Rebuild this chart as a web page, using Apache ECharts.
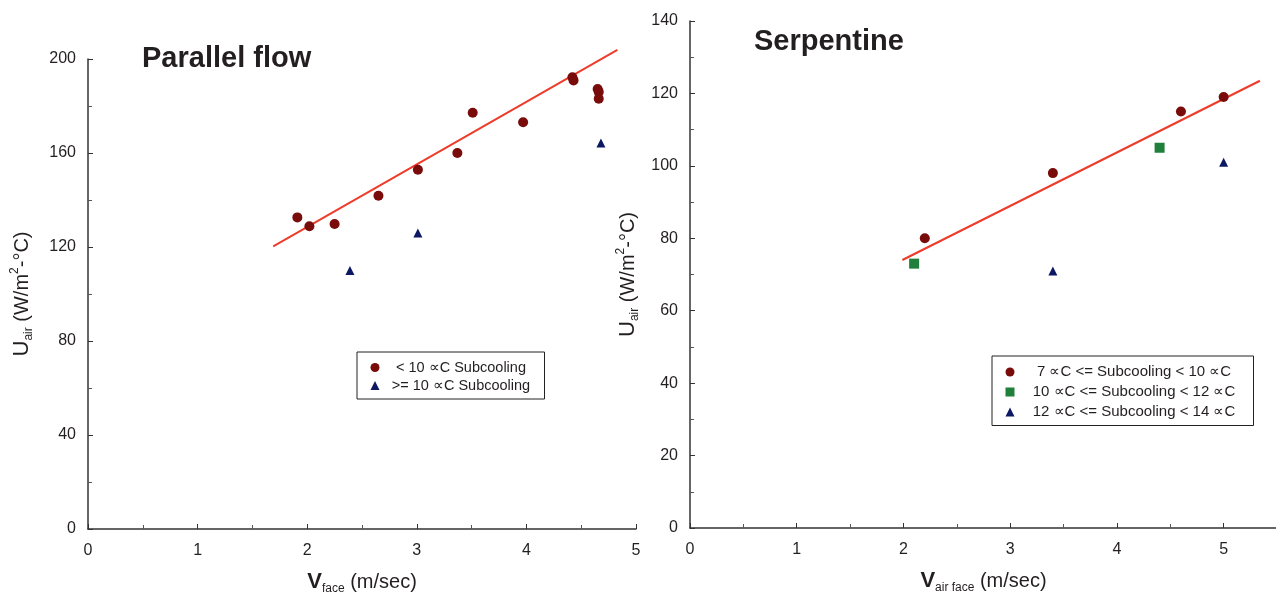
<!DOCTYPE html>
<html>
<head>
<meta charset="utf-8">
<script src="https://cdn.jsdelivr.net/npm/echarts@6/dist/echarts.min.js"></script>
<style>
  html, body { margin: 0; padding: 0; background: #fff; }
  #chart { width: 1276px; height: 592px; }
</style>
</head>
<body>
<div id="chart"></div>
<script>
// Parallel flow: face velocity (m/s) vs air-side U (W/m2-C)
const parallelLow = [
  [1.91, 132.6], [2.02, 128.8], [2.25, 129.8], [2.65, 141.8], [3.01, 152.9],
  [3.37, 160.0], [3.51, 177.1], [3.97, 173.1], [4.42, 192.2], [4.43, 190.9],
  [4.65, 187.2], [4.66, 186.0], [4.66, 183.1]
];
const parallelHigh = [[2.39, 110.0], [3.01, 126.0], [4.68, 164.3]];
const parallelFit = [[1.69, 120.3], [4.83, 203.9]];

// Serpentine: air face velocity (m/s) vs air-side U (W/m2-C)
const serpA = [[2.2, 80], [3.4, 98], [4.6, 115], [5.0, 119]];
const serpB = [[2.1, 73], [4.4, 105]];
const serpC = [[3.4, 71], [5.0, 101]];
const serpFit = [[1.99, 74.0], [5.34, 123.5]];

const parallelTicksY = [0, 40, 80, 120, 160, 200];
const serpTicksY = [0, 20, 40, 60, 80, 100, 120, 140];

const names = {
  pLow: '< 10 \u221DC Subcooling',
  pHigh: '>= 10 \u221DC Subcooling',
  sA: '7 \u221DC <= Subcooling < 10 \u221DC',
  sB: '10 \u221DC <= Subcooling < 12 \u221DC',
  sC: '12 \u221DC <= Subcooling < 14 \u221DC'
};

const FONT = '"Liberation Sans", Arial, Helvetica, sans-serif';
const INK = '#231f20';
const MAROON = '#7a0b0b';
const NAVY = '#0c1862';
const GREEN = '#1f7f3b';
const RED = '#ee3b2a';

const nameRich = {
  big: { fontSize: 22, fontFamily: FONT, color: INK, lineHeight: 26 },
  bigB: { fontSize: 22, fontFamily: FONT, color: INK, fontWeight: 'bold', lineHeight: 26 },
  sub: { fontSize: 12, fontFamily: FONT, color: INK, lineHeight: 12, verticalAlign: 'bottom' },
  sup: { fontSize: 12, fontFamily: FONT, color: INK, lineHeight: 12, verticalAlign: 'top' },
  mid: { fontSize: 20, fontFamily: FONT, color: INK, lineHeight: 26 }
};

function valueAxis(opts) {
  return Object.assign({
    type: 'value',
    splitLine: { show: false },
    axisLine: { show: true, onZero: false, lineStyle: { color: '#333', width: 1.5 } },
    axisTick: { show: true, inside: true, length: 5, lineStyle: { color: '#333', width: 1 } },
    minorTick: { show: true, splitNumber: 2, length: 4, lineStyle: { color: '#555', width: 1 } },
    axisLabel: { color: INK, fontSize: 16, fontFamily: FONT, margin: 12 },
    nameLocation: 'middle',
    nameTextStyle: { rich: nameRich }
  }, opts);
}

function legendText(width, size, lh) {
  return {
    formatter: (n) => '{t|' + n + '}',
    textStyle: { rich: { t: { width: width, align: 'center', fontFamily: FONT, color: INK, fontSize: size, lineHeight: lh } } }
  };
}

const chart = echarts.init(document.getElementById('chart'), null, { renderer: 'canvas' });

const option = {
  animation: false,
  backgroundColor: '#fff',
  title: [
    { text: 'Parallel flow', left: 142, top: 44, padding: 0,
      textStyle: { fontSize: 29, fontWeight: 'bold', fontFamily: FONT, color: INK } },
    { text: 'Serpentine', left: 754, top: 27, padding: 0,
      textStyle: { fontSize: 29, fontWeight: 'bold', fontFamily: FONT, color: INK } }
  ],
  legend: [
    Object.assign({
      data: [{ name: names.pLow, icon: 'circle' }, { name: names.pHigh, icon: 'triangle' }],
      orient: 'vertical', left: 357, top: 352,
      padding: [8, 7, 6, 13.5], itemGap: 3, itemWidth: 9, itemHeight: 9,
      borderColor: '#222', borderWidth: 1, backgroundColor: '#fff',
      selectedMode: false
    }, legendText(153, 14.5, 15)),
    Object.assign({
      data: [{ name: names.sA, icon: 'circle' }, { name: names.sB, icon: 'rect' }, { name: names.sC, icon: 'triangle' }],
      orient: 'vertical', left: 992, top: 356,
      padding: [8.5, 5, 6, 13.5], itemGap: 5, itemWidth: 9, itemHeight: 9,
      borderColor: '#222', borderWidth: 1, backgroundColor: '#fff',
      selectedMode: false
    }, legendText(229, 15, 16))
  ],
  grid: [
    { left: 88, top: 59, width: 548, height: 470, outerBoundsMode: 'none', containLabel: false },
    { left: 690, top: 21, width: 587, height: 507, outerBoundsMode: 'none', containLabel: false }
  ],
  xAxis: [
    valueAxis({
      gridIndex: 0, min: 0, max: 5, interval: 1,
      axisLabel: { color: INK, fontSize: 16, fontFamily: FONT, margin: 14 },
      name: '{bigB|V}{sub|face}{mid| (m/sec)}', nameGap: 40
    }),
    valueAxis({
      gridIndex: 1, min: 0, max: 5.5, interval: 1,
      axisLabel: { color: INK, fontSize: 16, fontFamily: FONT, margin: 14, showMaxLabel: false },
      name: '{bigB|V}{sub|air face}{mid| (m/sec)}', nameGap: 40
    })
  ],
  yAxis: [
    valueAxis({
      gridIndex: 0, min: parallelTicksY[0], max: parallelTicksY[parallelTicksY.length - 1], interval: 40,
      name: '{big|U}{sub|air}{mid| (W/m}{sup|2}{mid|-\u00B0C)}', nameGap: 53, nameRotate: 90
    }),
    valueAxis({
      gridIndex: 1, min: serpTicksY[0], max: serpTicksY[serpTicksY.length - 1], interval: 20,
      name: '{big|U}{sub|air}{mid| (W/m}{sup|2}{mid|-\u00B0C)}', nameGap: 49, nameRotate: 90
    })
  ],
  series: [
    { type: 'line', xAxisIndex: 0, yAxisIndex: 0, data: parallelFit, showSymbol: false, symbol: 'none',
      clip: false, lineStyle: { color: RED, width: 2 }, silent: true, z: 1 },
    { name: names.pLow, type: 'scatter', xAxisIndex: 0, yAxisIndex: 0, data: parallelLow,
      symbol: 'circle', symbolSize: 10, itemStyle: { color: MAROON, opacity: 1 }, z: 3 },
    { name: names.pHigh, type: 'scatter', xAxisIndex: 0, yAxisIndex: 0, data: parallelHigh,
      symbol: 'triangle', symbolSize: 9, itemStyle: { color: NAVY, opacity: 1 }, z: 3 },

    { type: 'line', xAxisIndex: 1, yAxisIndex: 1, data: serpFit, showSymbol: false, symbol: 'none',
      clip: false, lineStyle: { color: RED, width: 2 }, silent: true, z: 1 },
    { name: names.sA, type: 'scatter', xAxisIndex: 1, yAxisIndex: 1, data: serpA,
      symbol: 'circle', symbolSize: 10, itemStyle: { color: MAROON, opacity: 1 }, z: 3 },
    { name: names.sB, type: 'scatter', xAxisIndex: 1, yAxisIndex: 1, data: serpB,
      symbol: 'rect', symbolSize: 10, itemStyle: { color: GREEN, opacity: 1 }, z: 3 },
    { name: names.sC, type: 'scatter', xAxisIndex: 1, yAxisIndex: 1, data: serpC,
      symbol: 'triangle', symbolSize: 9, itemStyle: { color: NAVY, opacity: 1 }, z: 3 }
  ]
};

chart.setOption(option);
</script>
</body>
</html>
